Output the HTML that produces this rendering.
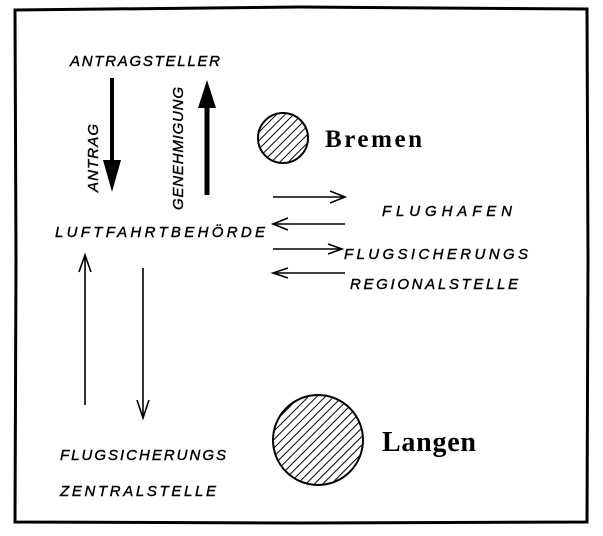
<!DOCTYPE html>
<html><head><style>
html,body{margin:0;padding:0;background:#fff;}
svg{display:block;}
.h{font-family:"Liberation Sans",sans-serif;font-style:italic;font-size:15px;letter-spacing:2px;fill:#000;stroke:#000;stroke-width:0.4;}
.b{font-family:"Liberation Serif",serif;font-weight:bold;fill:#000;}
</style></head><body>
<svg width="603" height="536" viewBox="0 0 603 536" xmlns="http://www.w3.org/2000/svg">
<defs>
<pattern id="hat" width="6" height="6" patternUnits="userSpaceOnUse" patternTransform="rotate(45)">
<rect width="6" height="6" fill="#fff"/><line x1="0" y1="0" x2="0" y2="6" stroke="#000" stroke-width="2"/>
</pattern>
</defs>
<path d="M15 10 L300 7 L587 9 L588 260 L587 522 L300 523 L15 522 L16 260 Z" fill="none" stroke="#000" stroke-width="3"/>
<text class="h" x="70" y="66" textLength="152">ANTRAGSTELLER</text>
<line x1="112" y1="78" x2="112" y2="170" stroke="#000" stroke-width="4"/>
<polygon points="103,160 121,160 112,192" fill="#000"/>
<line x1="207" y1="195" x2="207" y2="100" stroke="#000" stroke-width="5"/>
<polygon points="198,108 216,108 207,80" fill="#000"/>
<text class="h" transform="translate(98,192) rotate(-90)" textLength="70">ANTRAG</text>
<text class="h" transform="translate(183,210) rotate(-90)" textLength="125">GENEHMIGUNG</text>
<circle cx="283" cy="138" r="25" fill="url(#hat)" stroke="#000" stroke-width="2"/>
<text class="b" x="325" y="147" font-size="25" textLength="97">Bremen</text>
<text class="h" x="55" y="237" textLength="212">LUFTFAHRTBEHÖRDE</text>
<g stroke="#000" stroke-width="1.6" fill="none">
<line x1="273" y1="197" x2="345" y2="197"/><path d="M330 191 L345 197 L330 203"/>
<line x1="273" y1="224" x2="345" y2="224"/><path d="M288 218 L273 224 L288 230"/>
<line x1="273" y1="249" x2="342" y2="249"/><path d="M328 244 L342 249 L328 254"/>
<line x1="273" y1="273" x2="345" y2="273"/><path d="M288 268 L273 273 L288 278"/>
<line x1="85" y1="405" x2="85" y2="255"/><path d="M79 272 L85 255 L91 272"/>
<line x1="143" y1="268" x2="143" y2="418"/><path d="M137 400 L143 418 L149 400"/>
</g>
<text class="h" x="382" y="216" textLength="132">FLUGHAFEN</text>
<text class="h" x="344" y="259" textLength="186">FLUGSICHERUNGS</text>
<text class="h" x="350" y="289" textLength="170">REGIONALSTELLE</text>
<circle cx="318" cy="440" r="45" fill="url(#hat)" stroke="#000" stroke-width="2"/>
<text class="b" x="382" y="451" font-size="28" textLength="94">Langen</text>
<text class="h" x="60" y="460" textLength="168">FLUGSICHERUNGS</text>
<text class="h" x="60" y="496" textLength="158">ZENTRALSTELLE</text>
</svg>
</body></html>
